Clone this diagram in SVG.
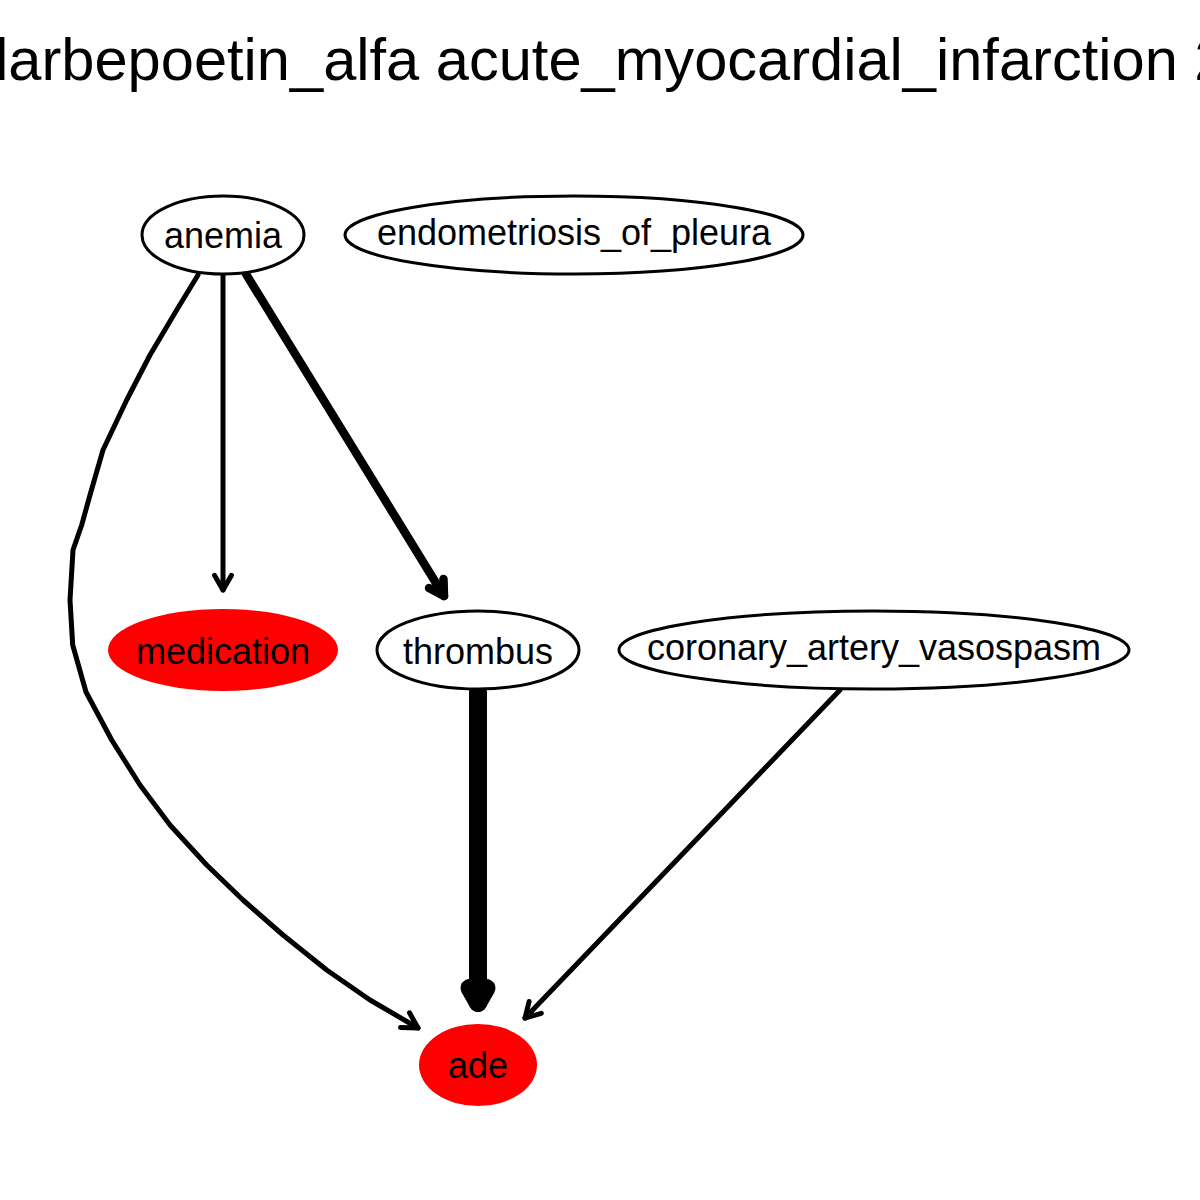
<svg xmlns="http://www.w3.org/2000/svg" width="1200" height="1200" viewBox="0 0 1200 1200">
<style>
.title{font-family:"Liberation Sans",Arial,sans-serif;font-size:59.6px;fill:#000}
.lbl{font-family:"Liberation Sans",Arial,sans-serif;font-size:36px;fill:#000;text-anchor:middle}
.node{fill:#fff;stroke:#000;stroke-width:3}
.hit{fill:#ff0000;stroke:none}
.edge{fill:none;stroke:#000;stroke-linecap:round;stroke-linejoin:round}
</style>
<rect width="1200" height="1200" fill="#fff"/>
<text class="title" x="-24.8" y="80">darbepoetin_alfa acute_myocardial_infarction 2</text>
<g id="edges">
  <g id="e-anemia-medication">
    <path class="edge" stroke-width="5" d="M223,276 L223,590"/>
    <path class="edge" stroke-width="5" d="M214.5,575.3 L223,590 L231.5,575.3"/>
  </g>
  <g id="e-anemia-thrombus">
    <path class="edge" stroke-width="8.5" d="M246,274 L444,596"/>
    <path class="edge" stroke-width="8.5" d="M443.5,579 L444,596 L429,588"/>
  </g>
  <g id="e-anemia-ade">
    <path class="edge" stroke-width="5" d="M198,275 L176.7,310 L150,355 L126.7,400 L103,450 L90,495 L81.7,525 L73,550 L70,600 L72.7,645 L86,692 L111.7,740 L140,785 L170,825 L206.7,865 L243,900 L283,935 L326.7,970 L370,1000 L418,1028"/>
    <path class="edge" stroke-width="5" d="M409.5,1012.8 L418,1028 L400.5,1027.5"/>
  </g>
  <g id="e-thrombus-ade">
    <path class="edge" stroke-width="18" d="M478,692 L478,1003"/>
    <path class="edge" stroke-width="18" d="M469.5,988 L478,1003 L486.5,988"/>
  </g>
  <g id="e-coronary-ade">
    <path class="edge" stroke-width="5" d="M840,690 L525,1018"/>
    <path class="edge" stroke-width="5" d="M541.3,1013.3 L525,1018 L529.1,1001.5"/>
  </g>
</g>
<g id="node-anemia">
  <ellipse class="node" cx="223" cy="235" rx="81" ry="39"/>
  <text class="lbl" x="223" y="248">anemia</text>
</g>
<g id="node-endometriosis_of_pleura">
  <ellipse class="node" cx="574" cy="235" rx="229" ry="39"/>
  <text class="lbl" x="574" y="245">endometriosis_of_pleura</text>
</g>
<g id="node-medication">
  <ellipse class="hit" cx="223" cy="650" rx="115" ry="41"/>
  <text class="lbl" x="223" y="664">medication</text>
</g>
<g id="node-thrombus">
  <ellipse class="node" cx="478" cy="650" rx="101" ry="39"/>
  <text class="lbl" x="478" y="664">thrombus</text>
</g>
<g id="node-coronary_artery_vasospasm">
  <ellipse class="node" cx="874" cy="650" rx="255" ry="39"/>
  <text class="lbl" x="874" y="660">coronary_artery_vasospasm</text>
</g>
<g id="node-ade">
  <ellipse class="hit" cx="478" cy="1065" rx="59" ry="41"/>
  <text class="lbl" x="478" y="1078">ade</text>
</g>
</svg>
